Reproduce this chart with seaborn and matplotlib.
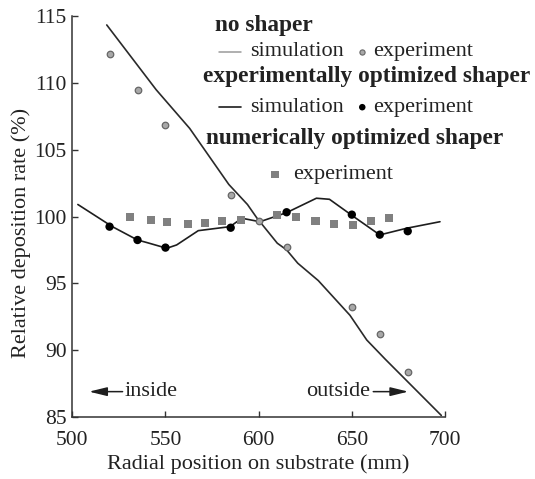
import numpy as np
import pandas as pd
import seaborn as sns
import matplotlib.pyplot as plt
from matplotlib.lines import Line2D

# no shaper
nos_sim_x = [518.5, 545, 563, 570, 584, 594, 599, 610, 615, 621, 632, 649, 658, 668, 698]
nos_sim_y = [114.35, 109.5, 106.6, 105.2, 102.4, 100.9, 99.9, 98.0, 97.5, 96.5, 95.2, 92.6, 90.75, 89.3, 85.1]
nos_exp_x = [520, 535, 550, 585, 600, 615, 650, 665, 680]
nos_exp_y = [112.15, 109.5, 106.85, 101.6, 99.7, 97.7, 93.2, 91.2, 88.35]

# experimentally optimized shaper
eos_sim_x = [503, 521.5, 535, 540, 550.7, 556, 567.6, 584.6, 591, 600.7, 615, 631, 638, 651, 665, 679.4, 697.3]
eos_sim_y = [100.9, 99.24, 98.24, 98.05, 97.62, 97.87, 98.94, 99.24, 99.87, 99.61, 100.29, 101.37, 101.29,
             99.99, 98.62, 99.12, 99.61]
eos_exp_x = [520, 535, 550, 585, 615, 650, 665, 680]
eos_exp_y = [99.24, 98.24, 97.67, 99.16, 100.32, 100.14, 98.64, 98.9]

# numerically optimized shaper
num_exp_x = [531, 542, 551, 562, 571, 580.5, 590.5, 610, 620, 630.5, 640.5, 650.5, 660.5, 670]
num_exp_y = [99.97, 99.77, 99.62, 99.44, 99.54, 99.69, 99.74, 100.12, 99.98, 99.69, 99.44, 99.37, 99.69, 99.89]

xticks = [500, 550, 600, 650, 700]
yticks = [85, 90, 95, 100, 105, 110, 115]

sns.set_theme(style='ticks')
plt.rcParams['font.family'] = ['Liberation Serif', 'DejaVu Serif']
plt.rcParams['text.color'] = '#222222'

fig = plt.figure(figsize=(5.35, 4.79), dpi=100)
ax = fig.add_axes([0.1351, 0.130, 0.6967, 0.836])

ink = '#1e1e1e'
df_nos = pd.DataFrame({'x': nos_sim_x, 'y': nos_sim_y})
df_eos = pd.DataFrame({'x': eos_sim_x, 'y': eos_sim_y})
sns.lineplot(data=df_nos, x='x', y='y', sort=False, estimator=None, color='#2a2a2a', lw=1.2, ax=ax)
sns.lineplot(data=df_eos, x='x', y='y', sort=False, estimator=None, color=ink, lw=1.2, ax=ax)

sns.scatterplot(x=num_exp_x, y=num_exp_y, marker='s', s=34, color='#808080', edgecolor='none', ax=ax, zorder=3)
sns.scatterplot(x=nos_exp_x, y=nos_exp_y, marker='o', s=22, color='#a8a8a8', edgecolor='#666666',
                linewidth=0.9, ax=ax, zorder=4)
sns.scatterplot(x=eos_exp_x, y=eos_exp_y, marker='o', s=36, color='black', edgecolor='none', ax=ax, zorder=4)

ax.set_xlim(500, 700)
ax.set_ylim(85, 115)
ax.set_xticks(xticks)
ax.set_yticks(yticks)
for s in ['top', 'right']:
    ax.spines[s].set_visible(False)
for s in ['left', 'bottom']:
    ax.spines[s].set_color('#333333')
    ax.spines[s].set_linewidth(1.1)
ax.tick_params(axis='both', direction='in', length=4.5, width=1, color='#333333',
               labelsize=15.5, labelcolor='#222222')
ax.tick_params(axis='x', pad=10)
ax.tick_params(axis='y', pad=4)
ax.set_xlabel('Radial position on substrate (mm)', fontsize=16, labelpad=3, color='#222222')
ax.set_ylabel('Relative deposition rate (%)', fontsize=16, color='#222222')
ax.yaxis.set_label_coords(-0.11, 0.46)

# legend built by hand
tr = ax.transAxes
fs = 16
fb = 16.8
ax.text(0.383, 0.978, 'no shaper', transform=tr, fontsize=fb, fontweight='bold', va='center')
ax.add_line(Line2D([0.394, 0.452], [0.912, 0.912], transform=tr, color='#9a9a9a', lw=1.1))
ax.text(0.477, 0.911, 'simulation', transform=tr, fontsize=fs, va='center')
ax.scatter([0.778], [0.911], transform=tr, marker='o', s=14, color='#a8a8a8', edgecolor='#666666',
           linewidth=0.8, clip_on=False)
ax.text(0.806, 0.911, 'experiment', transform=tr, fontsize=fs, va='center', clip_on=False)

ax.text(0.350, 0.849, 'experimentally optimized shaper', transform=tr, fontsize=fb, fontweight='bold',
        va='center', clip_on=False)
ax.add_line(Line2D([0.394, 0.452], [0.773, 0.773], transform=tr, color=ink, lw=1.2))
ax.text(0.477, 0.772, 'simulation', transform=tr, fontsize=fs, va='center')
ax.scatter([0.778], [0.773], transform=tr, marker='o', s=22, color='black', edgecolor='none', clip_on=False)
ax.text(0.806, 0.772, 'experiment', transform=tr, fontsize=fs, va='center', clip_on=False)

ax.text(0.359, 0.695, 'numerically optimized shaper', transform=tr, fontsize=fb, fontweight='bold',
        va='center', clip_on=False)
ax.scatter([0.544], [0.605], transform=tr, marker='s', s=30, color='#808080', edgecolor='none')
ax.text(0.593, 0.605, 'experiment', transform=tr, fontsize=fs, va='center')

arrow = dict(arrowstyle='-|>,head_length=0.9,head_width=0.22', color=ink, lw=1.1, shrinkA=0, shrinkB=0)
ax.annotate('', xy=(509, 86.88), xytext=(527, 86.88), arrowprops=arrow)
ax.text(528.3, 86.88, 'inside', fontsize=fs, va='center')
ax.text(659.8, 86.88, 'outside', fontsize=fs, va='center', ha='right')
ax.annotate('', xy=(680.3, 86.88), xytext=(661.5, 86.88), arrowprops=arrow)

fig.savefig('out.png', dpi=100)
